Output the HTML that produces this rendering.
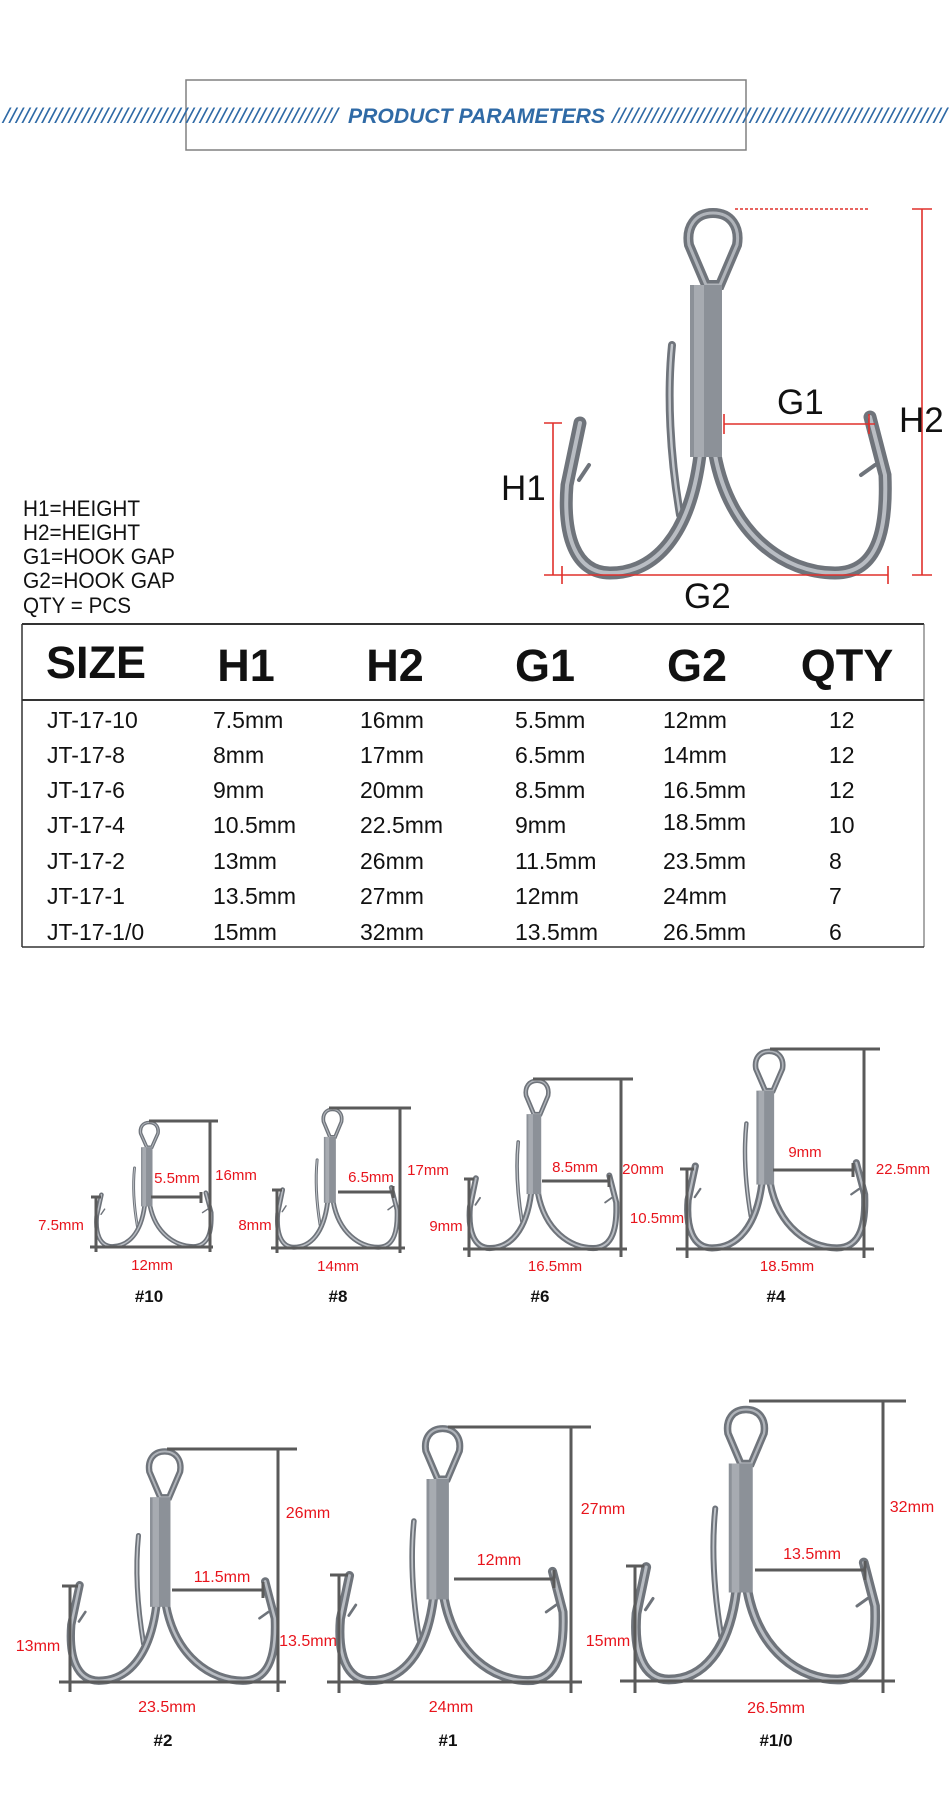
<!DOCTYPE html>
<html><head><meta charset="utf-8"><style>
html,body{margin:0;padding:0;background:#fff;}
svg{display:block;}
text{font-family:"Liberation Sans",Arial,sans-serif;}
.r{fill:#e8141c;font-size:15px;text-anchor:middle;}
.r2{fill:#e8141c;font-size:16px;text-anchor:middle;}
.n{fill:#111;font-size:17px;text-anchor:middle;font-weight:bold;}
.dl{stroke:#5a5a5a;stroke-width:3;fill:none;}
.rl{stroke:#e0302c;stroke-width:1.6;fill:none;}
.hd{font-size:45px;font-weight:bold;text-anchor:middle;fill:#111;}
.c{font-size:23px;fill:#111;}
.cb{font-size:23px;fill:#111;}
</style></head><body>
<svg width="950" height="1793" viewBox="0 0 950 1793" xmlns="http://www.w3.org/2000/svg">
<defs>
<g id="hook">
  <g fill="none" stroke-linecap="round">
    <path d="M115,-60 C105,-120 102,-180 107,-230" stroke="#6f747b" stroke-width="8"/>
    <path d="M115,-60 C105,-120 102,-180 107,-230" stroke="#c3c7cc" stroke-width="2.5"/>
    <path d="M135,-120 C125,-40 90,-2 45,-2 C10,-2 -2,-40 2,-90 L15,-152" stroke="#6f747b" stroke-width="13"/>
    <path d="M150,-120 C165,-40 220,-2 270,-2 C315,-2 322,-50 320,-100 L305,-158" stroke="#6f747b" stroke-width="13"/>
    <path d="M135,-120 C125,-40 90,-2 45,-2 C10,-2 -2,-40 2,-90 L15,-152" stroke="#b9bdc3" stroke-width="4"/>
    <path d="M150,-120 C165,-40 220,-2 270,-2 C315,-2 322,-50 320,-100 L305,-158" stroke="#b9bdc3" stroke-width="4"/>
    <path d="M14,-95 L24,-110 M310,-110 L296,-100" stroke="#6f747b" stroke-width="4"/>
    <path d="M148,-362 C130,-362 121,-348 124,-330 L141,-290 L155,-290 L172,-330 C175,-348 166,-362 148,-362 Z" stroke="#6f747b" stroke-width="10"/>
    <path d="M148,-362 C130,-362 121,-348 124,-330 L141,-290 L155,-290 L172,-330 C175,-348 166,-362 148,-362 Z" stroke="#b0b4ba" stroke-width="3"/>
  </g>
  <rect x="125" y="-290" width="32" height="172" fill="#8c9198"/>
  <rect x="129" y="-290" width="10" height="172" fill="#a7abb1"/>
</g>
</defs>

<!-- Title -->
<rect x="186" y="80" width="560" height="70" fill="none" stroke="#808080" stroke-width="1.5"/>
<text x="3" y="123" font-size="21" font-style="italic" fill="#2f6aa6" textLength="335" lengthAdjust="spacingAndGlyphs">///////////////////////////////////////////////////</text>
<text x="348" y="123" font-size="21" font-style="italic" font-weight="bold" fill="#2f6aa6" textLength="257" lengthAdjust="spacingAndGlyphs">PRODUCT PARAMETERS</text>
<text x="612" y="123" font-size="21" font-style="italic" fill="#2f6aa6" textLength="335" lengthAdjust="spacingAndGlyphs">///////////////////////////////////////////////////</text>

<!-- Big hook -->
<use href="#hook" transform="translate(565,575)"/>
<line x1="735" y1="209" x2="870" y2="209" class="rl" stroke-dasharray="3,2"/>
<line x1="922" y1="209" x2="922" y2="575" class="rl"/>
<line x1="912" y1="209" x2="932" y2="209" class="rl"/>
<line x1="912" y1="575" x2="932" y2="575" class="rl"/>
<line x1="724" y1="424" x2="875" y2="424" class="rl"/>
<line x1="724" y1="414" x2="724" y2="434" class="rl"/>
<line x1="869" y1="414" x2="869" y2="434" class="rl"/>
<line x1="553" y1="423" x2="553" y2="575" class="rl"/>
<line x1="544" y1="423" x2="562" y2="423" class="rl"/>
<line x1="544" y1="575" x2="562" y2="575" class="rl"/>
<line x1="562" y1="575" x2="888" y2="575" class="rl"/>
<line x1="562" y1="566" x2="562" y2="584" class="rl"/>
<line x1="888" y1="566" x2="888" y2="584" class="rl"/>
<text x="501" y="500" font-size="35" fill="#111">H1</text>
<text x="899" y="432" font-size="35" fill="#111">H2</text>
<text x="777" y="414" font-size="35" fill="#111">G1</text>
<text x="684" y="608" font-size="35" fill="#111">G2</text>

<!-- Legend -->
<text x="23" y="516" font-size="22" fill="#111" textLength="117" lengthAdjust="spacingAndGlyphs">H1=HEIGHT</text>
<text x="23" y="540" font-size="22" fill="#111" textLength="117" lengthAdjust="spacingAndGlyphs">H2=HEIGHT</text>
<text x="23" y="564" font-size="22" fill="#111" textLength="152" lengthAdjust="spacingAndGlyphs">G1=HOOK GAP</text>
<text x="23" y="588" font-size="22" fill="#111" textLength="152" lengthAdjust="spacingAndGlyphs">G2=HOOK GAP</text>
<text x="23" y="613" font-size="22" fill="#111" textLength="108" lengthAdjust="spacingAndGlyphs">QTY = PCS</text>

<!-- Table -->
<line x1="22" y1="624" x2="924" y2="624" stroke="#333" stroke-width="2"/>
<line x1="22" y1="700" x2="924" y2="700" stroke="#333" stroke-width="2"/>
<line x1="22" y1="624" x2="22" y2="947" stroke="#333" stroke-width="1.5"/>
<line x1="924" y1="624" x2="924" y2="947" stroke="#555" stroke-width="1"/>
<line x1="22" y1="947" x2="924" y2="947" stroke="#333" stroke-width="1.5"/>
<text x="96" y="678" class="hd" font-size="35">SIZE</text>
<text x="246" y="681" class="hd">H1</text>
<text x="395" y="681" class="hd">H2</text>
<text x="545" y="681" class="hd">G1</text>
<text x="697" y="681" class="hd">G2</text>
<text x="847" y="681" class="hd">QTY</text>
<g>
<text x="47" y="728" class="cb">JT-17-10</text><text x="213" y="728" class="c">7.5mm</text><text x="360" y="728" class="c">16mm</text><text x="515" y="728" class="c">5.5mm</text><text x="663" y="728" class="c">12mm</text><text x="829" y="728" class="c">12</text>
<text x="47" y="763" class="cb">JT-17-8</text><text x="213" y="763" class="c">8mm</text><text x="360" y="763" class="c">17mm</text><text x="515" y="763" class="c">6.5mm</text><text x="663" y="763" class="c">14mm</text><text x="829" y="763" class="c">12</text>
<text x="47" y="798" class="cb">JT-17-6</text><text x="213" y="798" class="c">9mm</text><text x="360" y="798" class="c">20mm</text><text x="515" y="798" class="c">8.5mm</text><text x="663" y="798" class="c">16.5mm</text><text x="829" y="798" class="c">12</text>
<text x="47" y="833" class="cb">JT-17-4</text><text x="213" y="833" class="c">10.5mm</text><text x="360" y="833" class="c">22.5mm</text><text x="515" y="833" class="c">9mm</text><text x="663" y="830" class="c">18.5mm</text><text x="829" y="833" class="c">10</text>
<text x="47" y="869" class="cb">JT-17-2</text><text x="213" y="869" class="c">13mm</text><text x="360" y="869" class="c">26mm</text><text x="515" y="869" class="c">11.5mm</text><text x="663" y="869" class="c">23.5mm</text><text x="829" y="869" class="c">8</text>
<text x="47" y="904" class="cb">JT-17-1</text><text x="213" y="904" class="c">13.5mm</text><text x="360" y="904" class="c">27mm</text><text x="515" y="904" class="c">12mm</text><text x="663" y="904" class="c">24mm</text><text x="829" y="904" class="c">7</text>
<text x="47" y="940" class="cb">JT-17-1/0</text><text x="213" y="940" class="c">15mm</text><text x="360" y="940" class="c">32mm</text><text x="515" y="940" class="c">13.5mm</text><text x="663" y="940" class="c">26.5mm</text><text x="829" y="940" class="c">6</text>
</g>

<!-- #10 -->
<use href="#hook" transform="translate(96,1247) scale(0.36,0.344)"/>
<path class="dl" d="M90,1247 H213 M96,1197 V1252 M91,1197 H101 M149,1121 H218 M210,1121 V1252 M151,1197 H201 M201,1192 V1203"/>
<text x="177" y="1183" class="r">5.5mm</text>
<text x="236" y="1180" class="r">16mm</text>
<text x="61" y="1230" class="r">7.5mm</text>
<text x="152" y="1270" class="r">12mm</text>
<text x="149" y="1302" class="n">#10</text>

<!-- #8 -->
<use href="#hook" transform="translate(277,1248) scale(0.375,0.383)"/>
<path class="dl" d="M271,1248 H405 M277,1190 V1253 M272,1190 H282 M329,1108 H411 M400,1108 V1253 M338,1192 H393 M393,1186 V1198"/>
<text x="371" y="1182" class="r">6.5mm</text>
<text x="428" y="1175" class="r">17mm</text>
<text x="255" y="1230" class="r">8mm</text>
<text x="338" y="1271" class="r">14mm</text>
<text x="338" y="1302" class="n">#8</text>

<!-- #6 -->
<use href="#hook" transform="translate(469,1249) scale(0.46,0.465)"/>
<path class="dl" d="M463,1249 H627 M469,1179 V1257 M464,1179 H474 M533,1079 H633 M621,1079 V1257 M542,1181 H609 M609,1175 V1187"/>
<text x="575" y="1172" class="r">8.5mm</text>
<text x="643" y="1174" class="r">20mm</text>
<text x="446" y="1231" class="r">9mm</text>
<text x="555" y="1271" class="r">16.5mm</text>
<text x="540" y="1302" class="n">#6</text>

<!-- #4 -->
<use href="#hook" transform="translate(687,1249) scale(0.555,0.546)"/>
<path class="dl" d="M676,1249 H874 M687,1169 V1258 M680,1169 H694 M770,1049 H880 M864,1049 V1258 M773,1170 H853 M853,1163 V1177"/>
<text x="805" y="1157" class="r">9mm</text>
<text x="903" y="1174" class="r">22.5mm</text>
<text x="657" y="1223" class="r">10.5mm</text>
<text x="787" y="1271" class="r">18.5mm</text>
<text x="776" y="1302" class="n">#4</text>

<!-- #2 -->
<use href="#hook" transform="translate(70,1682) scale(0.64,0.637)"/>
<path class="dl" d="M59,1682 H286 M70,1586 V1692 M62,1586 H78 M167,1449 H297 M278,1449 V1692 M172,1590 H263 M263,1582 V1598"/>
<text x="222" y="1582" class="r2">11.5mm</text>
<text x="308" y="1518" class="r2">26mm</text>
<text x="38" y="1651" class="r2">13mm</text>
<text x="308" y="1646" class="r2">13.5mm</text>
<text x="167" y="1712" class="r2">23.5mm</text>
<text x="163" y="1746" class="n">#2</text>

<!-- #1 -->
<use href="#hook" transform="translate(339,1682) scale(0.7,0.7)"/>
<path class="dl" d="M327,1682 H582 M339,1575 V1693 M330,1575 H348 M448,1427 H591 M571,1427 V1693 M454,1579 H554 M554,1570 V1588"/>
<text x="499" y="1565" class="r2">12mm</text>
<text x="603" y="1514" class="r2">27mm</text>
<text x="451" y="1712" class="r2">24mm</text>
<text x="448" y="1746" class="n">#1</text>

<!-- #1/0 -->
<use href="#hook" transform="translate(635,1681) scale(0.75,0.75)"/>
<path class="dl" d="M620,1681 H895 M635,1566 V1693 M626,1566 H644 M749,1401 H906 M883,1401 V1693 M755,1570 H865 M865,1561 V1580"/>
<text x="812" y="1559" class="r2">13.5mm</text>
<text x="912" y="1512" class="r2">32mm</text>
<text x="608" y="1646" class="r2">15mm</text>
<text x="776" y="1713" class="r2">26.5mm</text>
<text x="776" y="1746" class="n">#1/0</text>
</svg>
</body></html>
